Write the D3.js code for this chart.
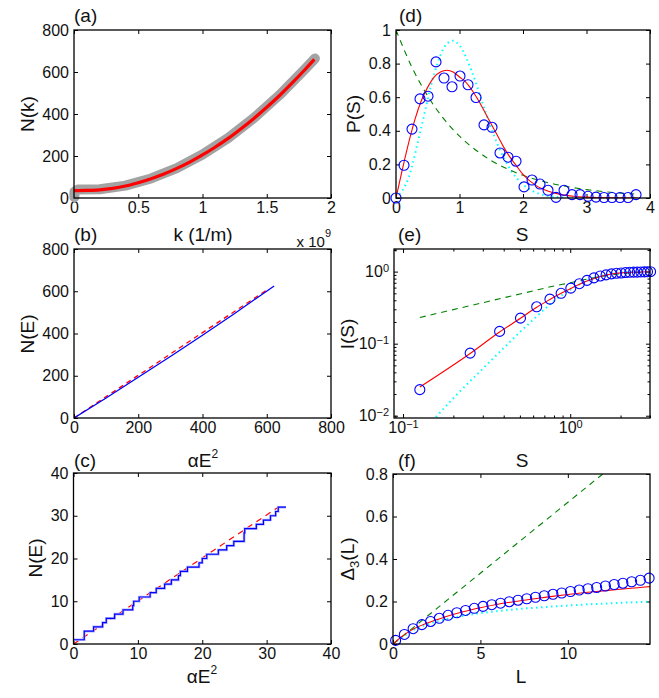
<!DOCTYPE html>
<html>
<head>
<meta charset="utf-8">
<script src="https://cdn.jsdelivr.net/npm/d3@7"></script>
<style>
body { margin: 0; background: #fff; }
text { font-family: "Liberation Sans", Arial, Helvetica, sans-serif; fill: #111; }
</style>
</head>
<body>
<svg id="fig" width="659" height="698"></svg>
<script>
// (a) N(k), k in units of 1e9 1/m
var aK = [0, 0.1, 0.2, 0.3, 0.4, 0.5, 0.6, 0.7, 0.8, 0.9, 1.0, 1.1, 1.2, 1.3, 1.4, 1.5, 1.6, 1.7, 1.8, 1.87];
var aN = [35, 36, 39, 46, 57, 73, 92, 114, 141, 171, 205, 243, 284, 330, 379, 432, 488, 549, 613, 660];
var aGrayK = [0.003, 0.003, 0.03, 0.2, 0.4, 0.6, 0.8, 1.0, 1.2, 1.4, 1.6, 1.8, 1.875];
var aGrayN = [4, 30, 40, 42, 59, 93, 142, 207, 286, 381, 491, 616, 664];

// (b) N(E) vs alpha E^2
var bBlueX = [0, 100, 200, 300, 400, 500, 623];
var bBlueN = [0, 95, 193, 291, 392, 495, 625];
var bRedX = [0, 600];
var bRedN = [0, 606];

// (c) staircase, first 32 levels
var cStepX = [0, 1.67, 3.12, 4.52, 5.09, 6.39, 7.69, 9.2, 9.35, 10.2, 11.9, 12.85, 14.15, 15.2, 16.3, 16.6,
              17.7, 19.5, 20.0, 20.7, 22.5, 23.8, 24.9, 26.5, 26.6, 28.4, 29.5, 30.6, 31.4, 31.8, 33.0];
var cStepN = [1, 3, 4, 5, 6, 7, 8, 9, 10, 11, 12, 13, 14, 15, 16, 17,
              18, 19, 20, 21, 22, 23, 24, 26, 27, 28, 29, 30, 31, 32, 32];
var cRedX = [0, 31.6];
var cRedN = [0, 31.8];

// (d) P(S)
var dS = [0, 0.126, 0.252, 0.378, 0.504, 0.63, 0.756, 0.882, 1.008, 1.134, 1.26, 1.386, 1.512, 1.638, 1.764, 1.89,
          2.016, 2.142, 2.268, 2.394, 2.52, 2.646, 2.772, 2.898, 3.024, 3.15, 3.276, 3.402, 3.528, 3.654, 3.78];
var dP = [0, 0.195, 0.41, 0.59, 0.606, 0.81, 0.714, 0.662, 0.726, 0.674, 0.598, 0.435, 0.421, 0.268, 0.243, 0.219,
          0.066, 0.107, 0.083, 0.046, 0.004, 0.046, 0.02, 0.02, 0.01, 0.005, 0.003, 0.003, 0.003, 0.003, 0.02];
var dRedS = [0, 0.1, 0.2, 0.3, 0.4, 0.5, 0.6, 0.7, 0.8, 0.9, 1.0, 1.1, 1.2, 1.3, 1.4, 1.5, 1.6, 1.7, 1.8, 1.9,
             2.0, 2.2, 2.4, 2.6, 2.8, 3.0, 3.4, 3.8];
var dRedP = [0, 0.17, 0.33, 0.47, 0.58, 0.66, 0.72, 0.75, 0.76, 0.75, 0.72, 0.69, 0.64, 0.58, 0.51, 0.44, 0.37, 0.30, 0.24, 0.19,
             0.14, 0.075, 0.04, 0.02, 0.01, 0.005, 0.001, 0];
var dPoisS = [0, 0.25, 0.5, 0.75, 1.0, 1.25, 1.5, 1.75, 2.0, 2.25, 2.5, 2.75, 3.0, 3.25, 3.5, 3.75];
var dPoisP = [1, 0.779, 0.607, 0.472, 0.368, 0.287, 0.223, 0.174, 0.135, 0.105, 0.082, 0.064, 0.050, 0.039, 0.030, 0.024];
var dGueS = [0, 0.2, 0.4, 0.6, 0.8, 0.9, 1.0, 1.2, 1.4, 1.6, 1.8, 2.0, 2.2, 2.4, 2.6, 2.8, 3.0];
var dGueP = [0, 0.123, 0.423, 0.738, 0.918, 0.936, 0.908, 0.747, 0.523, 0.319, 0.170, 0.080, 0.033, 0.012, 0.004, 0.001, 0];

// (e) I(S), log-log
var eS = [0.126, 0.252, 0.378, 0.504, 0.63, 0.756, 0.882, 1.008, 1.134, 1.26, 1.386, 1.512,
          1.638, 1.764, 1.89, 2.016, 2.142, 2.268, 2.394, 2.52, 2.646, 2.772, 2.898, 3.024];
var eI = [0.023, 0.074, 0.148, 0.226, 0.325, 0.415, 0.50, 0.59, 0.68, 0.755, 0.82, 0.87,
          0.90, 0.93, 0.95, 0.958, 0.97, 0.978, 0.984, 0.985, 0.99, 0.993, 0.996, 0.998];
var eRedS = [0.126, 0.252, 0.378, 0.504, 0.63, 0.756, 0.882, 1.008, 1.26, 1.512, 1.764, 2.016, 2.52, 3.0];
var eRedI = [0.025, 0.073, 0.145, 0.225, 0.32, 0.41, 0.50, 0.585, 0.74, 0.855, 0.925, 0.962, 0.99, 0.998];
var eGreenS = [0.126, 0.2, 0.3, 0.4, 0.5, 0.6, 0.7, 0.8, 1.0, 1.2, 1.5, 2.0, 2.5, 3.0];
var eGreenI = [0.231, 0.297, 0.37, 0.433, 0.489, 0.54, 0.588, 0.631, 0.70, 0.77, 0.85, 0.93, 0.97, 0.99];
var eCyanS = [0.15, 0.2, 0.3, 0.4, 0.5, 0.6, 0.7, 0.8, 0.9, 1.0, 1.2, 1.4, 1.6, 1.8, 2.0, 2.5, 3.0];
var eCyanI = [0.0085, 0.0175, 0.045, 0.087, 0.145, 0.215, 0.30, 0.39, 0.48, 0.56, 0.71, 0.82, 0.90, 0.95, 0.975, 0.995, 1.0];

// (f) Delta_3(L)
var fL = [0.15, 0.65, 1.15, 1.65, 2.15, 2.65, 3.15, 3.65, 4.15, 4.65, 5.15, 5.65, 6.15, 6.65, 7.15,
          7.65, 8.15, 8.65, 9.15, 9.65, 10.15, 10.65, 11.15, 11.65, 12.15, 12.65, 13.15, 13.65, 14.15, 14.65];
var fD = [0.017, 0.045, 0.072, 0.091, 0.106, 0.121, 0.135, 0.147, 0.158, 0.168, 0.177, 0.185, 0.192, 0.199, 0.206,
          0.213, 0.220, 0.227, 0.234, 0.240, 0.247, 0.254, 0.260, 0.266, 0.273, 0.280, 0.286, 0.293, 0.300, 0.310];
var fRedL = [0, 0.5, 1, 2, 3, 4, 5, 6, 7, 8, 9, 10, 11, 12, 13, 14, 14.7];
var fRedD = [0, 0.035, 0.063, 0.100, 0.128, 0.152, 0.171, 0.187, 0.200, 0.212, 0.223, 0.233, 0.242, 0.250, 0.258, 0.265, 0.27];
var fGreenL = [0, 12];
var fGreenD = [0, 0.8];
var fCyanL = [0, 0.5, 1, 2, 3, 4, 5, 6, 7, 8, 9, 10, 11, 12, 13, 14, 14.7];
var fCyanD = [0, 0.03, 0.058, 0.094, 0.116, 0.132, 0.145, 0.155, 0.163, 0.170, 0.176, 0.181, 0.186, 0.190, 0.194, 0.197, 0.2];

var svg = d3.select("#fig");
var tickLen = 4;
var TICKFONT = 16, LABFONT = 19;

function zip(xs, ys) { return xs.map(function(v, i) { return [v, ys[i]]; }); }

function panel(id, b, x, y, opt) {
    x.range([b[0], b[2]]);
    y.range([b[3], b[1]]);
    var fmt = opt.fmt || d3.format("~g");
    function clean(g) { g.select(".domain").remove(); g.attr("font-size", TICKFONT).attr("font-family", null).attr("color", "#000"); }
    var ax = {};
    ax.x = svg.append("g").attr("transform", "translate(0," + b[3] + ")")
        .call(d3.axisBottom(x).tickValues(opt.xt).tickSizeInner(-tickLen).tickSizeOuter(0).tickPadding(4).tickFormat(opt.xf || fmt)).call(clean);
    svg.append("g").attr("transform", "translate(0," + b[1] + ")")
        .call(d3.axisTop(x).tickValues(opt.xt).tickSizeInner(-tickLen).tickSizeOuter(0).tickFormat("")).call(clean);
    ax.y = svg.append("g").attr("transform", "translate(" + b[0] + ",0)")
        .call(d3.axisLeft(y).tickValues(opt.yt).tickSizeInner(-tickLen).tickSizeOuter(0).tickPadding(5).tickFormat(opt.yf || fmt)).call(clean);
    svg.append("g").attr("transform", "translate(" + b[2] + ",0)")
        .call(d3.axisRight(y).tickValues(opt.yt).tickSizeInner(-tickLen).tickSizeOuter(0).tickFormat("")).call(clean);
    if (opt.xm) {
        svg.append("g").attr("transform", "translate(0," + b[3] + ")")
            .call(d3.axisBottom(x).tickValues(opt.xm).tickSizeInner(-2.5).tickSizeOuter(0).tickFormat("")).call(clean);
        svg.append("g").attr("transform", "translate(0," + b[1] + ")")
            .call(d3.axisTop(x).tickValues(opt.xm).tickSizeInner(-2.5).tickSizeOuter(0).tickFormat("")).call(clean);
    }
    if (opt.ym) {
        svg.append("g").attr("transform", "translate(" + b[0] + ",0)")
            .call(d3.axisLeft(y).tickValues(opt.ym).tickSizeInner(-2.5).tickSizeOuter(0).tickFormat("")).call(clean);
        svg.append("g").attr("transform", "translate(" + b[2] + ",0)")
            .call(d3.axisRight(y).tickValues(opt.ym).tickSizeInner(-2.5).tickSizeOuter(0).tickFormat("")).call(clean);
    }
    svg.append("clipPath").attr("id", "clip" + id).append("rect")
        .attr("x", b[0]).attr("y", b[1]).attr("width", b[2] - b[0]).attr("height", b[3] - b[1]);
    var g = {ax: ax};
    g.clipped = svg.append("g").attr("clip-path", "url(#clip" + id + ")");
    g.top = svg.append("g");
    svg.append("rect").attr("x", b[0]).attr("y", b[1]).attr("width", b[2] - b[0]).attr("height", b[3] - b[1])
        .attr("fill", "none").attr("stroke", "#000").attr("stroke-width", 1.3);
    return g;
}

function line(layer, x, y, pts, style, curve) {
    var gen = d3.line().x(function(d) { return x(d[0]); }).y(function(d) { return y(d[1]); })
        .curve(curve || d3.curveMonotoneX);
    var p = layer.append("path").attr("d", gen(pts)).attr("fill", "none");
    for (var k in style) p.attr(k, style[k]);
    return p;
}

function circles(layer, x, y, pts) {
    layer.selectAll(null).data(pts).enter().append("circle")
        .attr("cx", function(d) { return x(d[0]); }).attr("cy", function(d) { return y(d[1]); })
        .attr("r", 5).attr("fill", "none").attr("stroke", "#0000ff").attr("stroke-width", 1.1);
}

function label(x, y, str, size, anchor) {
    return svg.append("text").attr("x", x).attr("y", y).attr("font-size", size)
        .attr("text-anchor", anchor || "middle").text(str);
}

function ylabel(x, y, str) {
    return svg.append("text").attr("transform", "translate(" + x + "," + y + ") rotate(-90)")
        .attr("font-size", LABFONT).attr("text-anchor", "middle").text(str);
}

var RED = "#ff0000", GREEN = "#008000", CYAN = "#00ffff", BLUE = "#0000ff";
var dashG = {"stroke": GREEN, "stroke-width": 1.1, "stroke-dasharray": "6,5"};
var dotC = {"stroke": CYAN, "stroke-width": 2, "stroke-dasharray": "1.5,3.5"};
var redThin = {"stroke": RED, "stroke-width": 1.1};

// ---------- (a)
var xa = d3.scaleLinear().domain([0, 2]), ya = d3.scaleLinear().domain([0, 800]);
var ga = panel("a", [74, 30, 331, 198], xa, ya, {xt: [0, 0.5, 1, 1.5, 2], yt: [0, 200, 400, 600, 800]});
line(ga.top, xa, ya, zip(aGrayK, aGrayN), {"stroke": "#a3a3a3", "stroke-width": 10, "stroke-linecap": "round", "stroke-linejoin": "round"}, d3.curveLinear);
line(ga.top, xa, ya, zip(aK, aN), {"stroke": RED, "stroke-width": 3.2});
label(74, 22, "(a)", LABFONT, "start");
ylabel(34, 114, "N(k)");
label(203, 241, "k (1/m)", LABFONT);
var xt = label(331, 247, "x 10", 15, "end");
xt.append("tspan").attr("dy", -10).attr("font-size", 11).text("9");

// ---------- (b)
var xb = d3.scaleLinear().domain([0, 800]), yb = d3.scaleLinear().domain([0, 800]);
var gb = panel("b", [74, 249, 331, 418], xb, yb, {xt: [0, 200, 400, 600, 800], yt: [0, 200, 400, 600, 800]});
line(gb.clipped, xb, yb, zip(bRedX, bRedN), {"stroke": RED, "stroke-width": 1.3, "stroke-dasharray": "5,4"}, d3.curveLinear);
line(gb.clipped, xb, yb, zip(bBlueX, bBlueN), {"stroke": BLUE, "stroke-width": 1.3}, d3.curveLinear);
label(74, 241, "(b)", LABFONT, "start");
ylabel(34, 334, "N(E)");
var tb = label(203, 467, "\u03b1E", LABFONT);
tb.append("tspan").attr("dy", -9).attr("font-size", 12).text("2");

// ---------- (c)
var xc = d3.scaleLinear().domain([0, 40]), yc = d3.scaleLinear().domain([0, 40]);
var gc = panel("c", [73.5, 473, 331, 644], xc, yc, {xt: [0, 10, 20, 30, 40], yt: [0, 10, 20, 30, 40]});
line(gc.clipped, xc, yc, zip(cRedX, cRedN), {"stroke": RED, "stroke-width": 1.2, "stroke-dasharray": "6,5"}, d3.curveLinear);
line(gc.clipped, xc, yc, zip(cStepX, cStepN), {"stroke": "#b4b4ff", "stroke-width": 2.6}, d3.curveStepAfter);
line(gc.clipped, xc, yc, zip(cStepX, cStepN), {"stroke": BLUE, "stroke-width": 1.2}, d3.curveStepAfter);
label(74, 467, "(c)", LABFONT, "start");
ylabel(42, 558, "N(E)");
var tc = label(202, 683, "\u03b1E", LABFONT);
tc.append("tspan").attr("dy", -9).attr("font-size", 12).text("2");

// ---------- (d)
var xd = d3.scaleLinear().domain([0, 4]), yd = d3.scaleLinear().domain([0, 1]);
var gd = panel("d", [396, 30, 650, 198], xd, yd, {xt: [0, 1, 2, 3, 4], yt: [0, 0.2, 0.4, 0.6, 0.8, 1]});
line(gd.clipped, xd, yd, zip(dGueS, dGueP), dotC);
line(gd.clipped, xd, yd, zip(dPoisS, dPoisP), dashG);
line(gd.clipped, xd, yd, zip(dRedS, dRedP), redThin);
circles(gd.top, xd, yd, zip(dS, dP));
label(399, 22, "(d)", LABFONT, "start");
ylabel(360, 114, "P(S)");
label(522, 241, "S", LABFONT);

// ---------- (e)
var xe = d3.scaleLog().domain([0.0883, 3.0]), ye = d3.scaleLog().domain([0.0093, 2.06]);
var ge = panel("e", [394, 249, 650, 418], xe, ye, {
    xt: [0.1, 1], yt: [0.01, 0.1, 1],
    xm: [0.09, 0.2, 0.3, 0.4, 0.5, 0.6, 0.7, 0.8, 0.9, 2, 3],
    ym: [0.02, 0.03, 0.04, 0.05, 0.06, 0.07, 0.08, 0.09, 0.2, 0.3, 0.4, 0.5, 0.6, 0.7, 0.8, 0.9, 2],
    fmt: function() { return ""; }
});
function powLabels(sel) {
    sel.selectAll(".tick text").each(function(d) {
        var e = Math.round(Math.log10(d));
        var t = d3.select(this);
        t.text("10");
        t.append("tspan").attr("dy", "-0.5em").attr("font-size", 11).text(e < 0 ? "\u2212" + (-e) : e);
    });
}
ge.ax.x.call(powLabels);
ge.ax.y.call(powLabels);
line(ge.clipped, xe, ye, zip(eCyanS, eCyanI), dotC);
line(ge.clipped, xe, ye, zip(eGreenS, eGreenI), dashG);
line(ge.clipped, xe, ye, zip(eRedS, eRedI), redThin);
circles(ge.top, xe, ye, zip(eS, eI));
label(398, 241, "(e)", LABFONT, "start");
ylabel(354, 334, "I(S)");
label(522, 467, "S", LABFONT);

// ---------- (f)
var xf = d3.scaleLinear().domain([0, 14.7]), yf = d3.scaleLinear().domain([0, 0.8]);
var gf = panel("f", [393, 474, 650, 644], xf, yf, {xt: [0, 5, 10], yt: [0, 0.2, 0.4, 0.6, 0.8]});
line(gf.clipped, xf, yf, zip(fCyanL, fCyanD), dotC);
line(gf.clipped, xf, yf, zip(fGreenL, fGreenD), dashG, d3.curveLinear);
line(gf.clipped, xf, yf, zip(fRedL, fRedD), redThin);
circles(gf.top, xf, yf, zip(fL, fD));
label(398, 467, "(f)", LABFONT, "start");
var yl = svg.append("text").attr("transform", "translate(354,559) rotate(-90)")
    .attr("font-size", LABFONT).attr("text-anchor", "middle").text("\u0394");
yl.append("tspan").attr("dy", 5).attr("font-size", 13).text("3");
yl.append("tspan").attr("dy", -5).text("(L)");
label(521, 683, "L", LABFONT);
</script>
</body>
</html>
